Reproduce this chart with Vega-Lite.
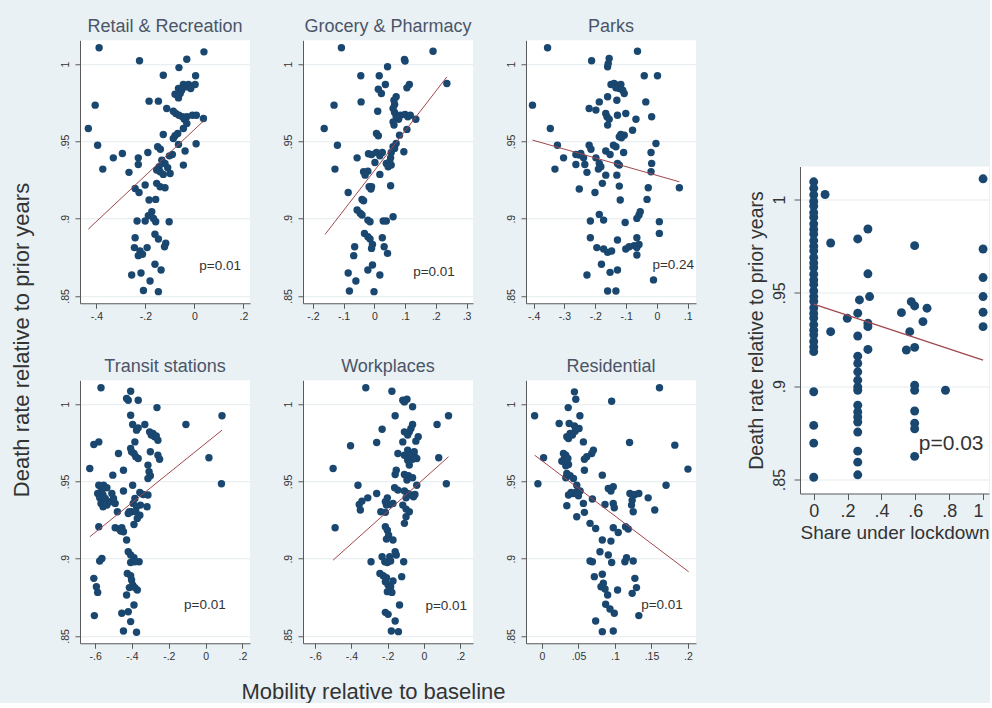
{
  "$schema": "https://vega.github.io/schema/vega-lite/v6.json",
  "background": "#e9f1f4",
  "padding": {"left": 10, "top": 18, "right": 0, "bottom": 0},
  "config": {
    "font": "Liberation Sans",
    "view": {"fill": "#ffffff", "stroke": null},
    "axis": {"domainColor": "#5a5a5a", "tickColor": "#5a5a5a", "labelColor": "#333333", "labelFontSize": 10.5, "tickSize": 5, "labelPadding": 3, "grid": false, "labelExpr": "replace(datum.value + '', '0.', '.')"},
    "axisY": {"grid": true, "gridColor": "#e3ebee", "labelAngle": 270, "labelPadding": 5},
    "title": {"fontSize": 18, "fontWeight": "normal", "color": "#4b5568", "offset": 4}
  },
  "datasets": {
    "retail": [{"x":-0.389,"y":1.0106},{"x":-0.224,"y":1.0022},{"x":0.039,"y":1.008},{"x":-0.031,"y":1.0032},{"x":-0.063,"y":0.9978},{"x":0.005,"y":0.9925},{"x":-0.127,"y":0.9929},{"x":-0.045,"y":0.9869},{"x":-0.024,"y":0.9869},{"x":-0.065,"y":0.9843},{"x":-0.052,"y":0.9832},{"x":-0.035,"y":0.9853},{"x":-0.015,"y":0.9843},{"x":-0.058,"y":0.981},{"x":-0.079,"y":0.9806},{"x":-0.065,"y":0.9782},{"x":0.003,"y":0.9869},{"x":-0.185,"y":0.9761},{"x":-0.147,"y":0.9761},{"x":-0.405,"y":0.9735},{"x":-0.113,"y":0.9713},{"x":-0.086,"y":0.9696},{"x":-0.076,"y":0.9681},{"x":-0.063,"y":0.967},{"x":-0.049,"y":0.966},{"x":-0.031,"y":0.966},{"x":-0.041,"y":0.9644},{"x":-0.008,"y":0.967},{"x":0.008,"y":0.967},{"x":0.037,"y":0.9649},{"x":-0.433,"y":0.9584},{"x":-0.031,"y":0.9616},{"x":-0.045,"y":0.9584},{"x":-0.068,"y":0.9552},{"x":-0.079,"y":0.9537},{"x":-0.086,"y":0.9519},{"x":-0.127,"y":0.9545},{"x":0.007,"y":0.9485},{"x":-0.395,"y":0.9476},{"x":-0.15,"y":0.9466},{"x":-0.139,"y":0.945},{"x":-0.065,"y":0.9481},{"x":-0.038,"y":0.9438},{"x":-0.09,"y":0.9416},{"x":-0.102,"y":0.9407},{"x":-0.331,"y":0.9394},{"x":-0.294,"y":0.9422},{"x":-0.229,"y":0.9394},{"x":-0.19,"y":0.9429},{"x":-0.229,"y":0.9351},{"x":-0.045,"y":0.9347},{"x":-0.374,"y":0.9321},{"x":-0.267,"y":0.93},{"x":-0.133,"y":0.9379},{"x":-0.12,"y":0.9358},{"x":-0.144,"y":0.9336},{"x":-0.154,"y":0.9315},{"x":-0.109,"y":0.933},{"x":-0.127,"y":0.9287},{"x":-0.099,"y":0.9293},{"x":-0.14,"y":0.9304},{"x":-0.242,"y":0.9196},{"x":-0.226,"y":0.917},{"x":-0.201,"y":0.9218},{"x":-0.154,"y":0.9229},{"x":-0.14,"y":0.9207},{"x":-0.12,"y":0.92},{"x":-0.185,"y":0.9121},{"x":-0.158,"y":0.9125},{"x":-0.174,"y":0.9045},{"x":-0.188,"y":0.902},{"x":-0.167,"y":0.9002},{"x":-0.158,"y":0.898},{"x":-0.201,"y":0.8985},{"x":-0.234,"y":0.8985},{"x":-0.103,"y":0.898},{"x":-0.242,"y":0.8877},{"x":-0.161,"y":0.8899},{"x":-0.147,"y":0.8869},{"x":-0.117,"y":0.8841},{"x":-0.122,"y":0.8819},{"x":-0.245,"y":0.8813},{"x":-0.222,"y":0.8791},{"x":-0.212,"y":0.877},{"x":-0.193,"y":0.8813},{"x":-0.229,"y":0.8761},{"x":-0.161,"y":0.8705},{"x":-0.136,"y":0.8668},{"x":-0.256,"y":0.8636},{"x":-0.218,"y":0.8649},{"x":-0.181,"y":0.8597},{"x":-0.208,"y":0.8535},{"x":-0.147,"y":0.8528}],
    "grocery": [{"x":-0.107,"y":1.0106},{"x":0.191,"y":1.0084},{"x":0.098,"y":1.003},{"x":0.1,"y":1.002},{"x":0.043,"y":0.9983},{"x":-0.044,"y":0.9925},{"x":0.016,"y":0.9925},{"x":0.036,"y":0.9869},{"x":0.114,"y":0.9869},{"x":0.106,"y":0.9847},{"x":0.236,"y":0.9875},{"x":0.013,"y":0.9838},{"x":0.023,"y":0.981},{"x":0.071,"y":0.9789},{"x":0.064,"y":0.9767},{"x":-0.043,"y":0.9756},{"x":-0.131,"y":0.9735},{"x":0.066,"y":0.9739},{"x":0.061,"y":0.9713},{"x":0.011,"y":0.9696},{"x":0.066,"y":0.9688},{"x":0.071,"y":0.966},{"x":0.085,"y":0.967},{"x":0.1,"y":0.9675},{"x":0.109,"y":0.966},{"x":0.117,"y":0.967},{"x":0.135,"y":0.9644},{"x":0.079,"y":0.9644},{"x":0.061,"y":0.9627},{"x":0.064,"y":0.9606},{"x":-0.163,"y":0.9584},{"x":0.106,"y":0.9578},{"x":0.007,"y":0.9552},{"x":0.013,"y":0.9537},{"x":0.082,"y":0.9541},{"x":-0.12,"y":0.9476},{"x":0.071,"y":0.9487},{"x":0.061,"y":0.9466},{"x":0.066,"y":0.9455},{"x":0.096,"y":0.9433},{"x":-0.019,"y":0.942},{"x":-0.009,"y":0.9416},{"x":0.007,"y":0.9429},{"x":0.026,"y":0.9429},{"x":0.018,"y":0.9407},{"x":0.055,"y":0.9429},{"x":0.053,"y":0.9394},{"x":-0.056,"y":0.9394},{"x":0.002,"y":0.9364},{"x":0.039,"y":0.9358},{"x":0.05,"y":0.9369},{"x":0.045,"y":0.9336},{"x":0.055,"y":0.9347},{"x":-0.128,"y":0.9321},{"x":-0.035,"y":0.9304},{"x":-0.021,"y":0.9308},{"x":-0.03,"y":0.9282},{"x":0.018,"y":0.9287},{"x":-0.017,"y":0.9207},{"x":-0.009,"y":0.9207},{"x":-0.011,"y":0.9192},{"x":0.053,"y":0.9213},{"x":-0.085,"y":0.917},{"x":-0.04,"y":0.9125},{"x":-0.035,"y":0.9116},{"x":-0.056,"y":0.9056},{"x":-0.046,"y":0.9035},{"x":-0.04,"y":0.9024},{"x":-0.021,"y":0.8991},{"x":-0.014,"y":0.898},{"x":0.029,"y":0.8985},{"x":0.039,"y":0.8985},{"x":0.061,"y":0.9013},{"x":-0.032,"y":0.8905},{"x":-0.021,"y":0.8884},{"x":-0.014,"y":0.8869},{"x":0.026,"y":0.8877},{"x":-0.006,"y":0.8834},{"x":-0.009,"y":0.8808},{"x":0.032,"y":0.8819},{"x":0.043,"y":0.8776},{"x":-0.064,"y":0.8819},{"x":-0.067,"y":0.8761},{"x":-0.006,"y":0.87},{"x":-0.021,"y":0.8668},{"x":0.018,"y":0.8636},{"x":-0.085,"y":0.8649},{"x":-0.06,"y":0.8597},{"x":-0.081,"y":0.8532},{"x":-0.001,"y":0.8528}],
    "parks": [{"x":-0.355,"y":1.0106},{"x":-0.063,"y":1.0084},{"x":-0.212,"y":1.0022},{"x":-0.155,"y":1.0037},{"x":-0.158,"y":1.0004},{"x":-0.16,"y":0.9983},{"x":-0.041,"y":0.9925},{"x":0.002,"y":0.9925},{"x":-0.149,"y":0.9869},{"x":-0.139,"y":0.9875},{"x":-0.128,"y":0.9864},{"x":-0.117,"y":0.9869},{"x":-0.122,"y":0.9843},{"x":-0.111,"y":0.9832},{"x":-0.106,"y":0.981},{"x":-0.133,"y":0.9847},{"x":-0.16,"y":0.9789},{"x":-0.13,"y":0.9767},{"x":-0.187,"y":0.9756},{"x":-0.036,"y":0.9756},{"x":-0.404,"y":0.9735},{"x":-0.22,"y":0.9713},{"x":-0.198,"y":0.9703},{"x":-0.166,"y":0.9681},{"x":-0.162,"y":0.966},{"x":-0.155,"y":0.9644},{"x":-0.16,"y":0.9606},{"x":-0.128,"y":0.967},{"x":-0.101,"y":0.9681},{"x":-0.068,"y":0.9644},{"x":-0.017,"y":0.966},{"x":-0.346,"y":0.9584},{"x":-0.079,"y":0.9573},{"x":-0.117,"y":0.9545},{"x":-0.106,"y":0.9541},{"x":-0.115,"y":0.9524},{"x":-0.122,"y":0.953},{"x":-0.003,"y":0.9487},{"x":-0.323,"y":0.9476},{"x":-0.22,"y":0.9476},{"x":-0.214,"y":0.945},{"x":-0.133,"y":0.9466},{"x":-0.141,"y":0.9476},{"x":-0.166,"y":0.9438},{"x":-0.152,"y":0.9416},{"x":-0.108,"y":0.9429},{"x":-0.019,"y":0.9429},{"x":-0.263,"y":0.9416},{"x":-0.252,"y":0.9412},{"x":-0.247,"y":0.9422},{"x":-0.238,"y":0.9394},{"x":-0.303,"y":0.9394},{"x":-0.198,"y":0.9394},{"x":-0.234,"y":0.9351},{"x":-0.263,"y":0.9351},{"x":-0.187,"y":0.9358},{"x":-0.182,"y":0.9336},{"x":-0.19,"y":0.9321},{"x":-0.128,"y":0.9358},{"x":-0.122,"y":0.9347},{"x":-0.017,"y":0.9358},{"x":-0.019,"y":0.9304},{"x":-0.331,"y":0.9321},{"x":-0.227,"y":0.93},{"x":-0.166,"y":0.9282},{"x":-0.177,"y":0.9229},{"x":-0.13,"y":0.9282},{"x":0.073,"y":0.92},{"x":-0.028,"y":0.92},{"x":-0.122,"y":0.9211},{"x":-0.252,"y":0.9192},{"x":-0.201,"y":0.917},{"x":-0.119,"y":0.9121},{"x":-0.032,"y":0.9125},{"x":-0.054,"y":0.9045},{"x":-0.058,"y":0.9024},{"x":-0.065,"y":0.9002},{"x":-0.187,"y":0.9028},{"x":-0.173,"y":0.8991},{"x":-0.216,"y":0.8985},{"x":-0.103,"y":0.8976},{"x":0.008,"y":0.8981},{"x":0.008,"y":0.8905},{"x":-0.216,"y":0.8877},{"x":-0.128,"y":0.8862},{"x":-0.065,"y":0.8877},{"x":-0.058,"y":0.8834},{"x":-0.065,"y":0.8813},{"x":-0.074,"y":0.8826},{"x":-0.195,"y":0.8813},{"x":-0.173,"y":0.8804},{"x":-0.16,"y":0.8782},{"x":-0.147,"y":0.8791},{"x":-0.101,"y":0.8804},{"x":-0.09,"y":0.8819},{"x":-0.065,"y":0.8765},{"x":-0.18,"y":0.8705},{"x":-0.152,"y":0.8653},{"x":-0.128,"y":0.8668},{"x":-0.227,"y":0.8636},{"x":-0.011,"y":0.8604},{"x":-0.16,"y":0.8532},{"x":-0.133,"y":0.8532}],
    "transit": [{"x":-0.568,"y":1.0106},{"x":-0.407,"y":1.0084},{"x":-0.366,"y":1.0026},{"x":-0.429,"y":1.0037},{"x":-0.42,"y":1.0026},{"x":-0.264,"y":0.9978},{"x":-0.407,"y":0.9929},{"x":0.089,"y":0.9925},{"x":-0.107,"y":0.9869},{"x":-0.396,"y":0.9869},{"x":-0.366,"y":0.9847},{"x":-0.375,"y":0.9832},{"x":-0.33,"y":0.9869},{"x":-0.304,"y":0.9821},{"x":-0.286,"y":0.981},{"x":-0.277,"y":0.9789},{"x":-0.259,"y":0.9767},{"x":-0.268,"y":0.9795},{"x":-0.295,"y":0.98},{"x":-0.58,"y":0.9756},{"x":-0.607,"y":0.9739},{"x":-0.384,"y":0.9756},{"x":-0.407,"y":0.9713},{"x":-0.389,"y":0.9681},{"x":-0.379,"y":0.966},{"x":-0.366,"y":0.9649},{"x":-0.402,"y":0.9692},{"x":-0.473,"y":0.9681},{"x":-0.3,"y":0.9692},{"x":-0.259,"y":0.967},{"x":-0.25,"y":0.9644},{"x":0.018,"y":0.9653},{"x":-0.629,"y":0.9584},{"x":-0.446,"y":0.9573},{"x":-0.313,"y":0.9606},{"x":-0.307,"y":0.9563},{"x":-0.3,"y":0.9537},{"x":-0.313,"y":0.9519},{"x":-0.504,"y":0.9541},{"x":0.086,"y":0.9485},{"x":-0.58,"y":0.9476},{"x":-0.568,"y":0.9466},{"x":-0.554,"y":0.9476},{"x":-0.536,"y":0.9459},{"x":-0.563,"y":0.9444},{"x":-0.586,"y":0.9422},{"x":-0.557,"y":0.9412},{"x":-0.575,"y":0.9394},{"x":-0.545,"y":0.939},{"x":-0.568,"y":0.9358},{"x":-0.557,"y":0.9336},{"x":-0.536,"y":0.9347},{"x":-0.509,"y":0.9422},{"x":-0.5,"y":0.939},{"x":-0.518,"y":0.9369},{"x":-0.491,"y":0.9358},{"x":-0.479,"y":0.9304},{"x":-0.446,"y":0.9438},{"x":-0.396,"y":0.9476},{"x":-0.384,"y":0.939},{"x":-0.393,"y":0.9358},{"x":-0.375,"y":0.9336},{"x":-0.354,"y":0.9347},{"x":-0.379,"y":0.9304},{"x":-0.357,"y":0.9282},{"x":-0.402,"y":0.9304},{"x":-0.371,"y":0.9261},{"x":-0.357,"y":0.9429},{"x":-0.339,"y":0.9416},{"x":-0.313,"y":0.9412},{"x":-0.318,"y":0.9336},{"x":-0.414,"y":0.9304},{"x":-0.42,"y":0.9293},{"x":-0.389,"y":0.9222},{"x":-0.58,"y":0.9207},{"x":-0.491,"y":0.92},{"x":-0.468,"y":0.9192},{"x":-0.455,"y":0.92},{"x":-0.446,"y":0.9175},{"x":-0.461,"y":0.9179},{"x":-0.429,"y":0.9121},{"x":-0.42,"y":0.9045},{"x":-0.407,"y":0.9024},{"x":-0.389,"y":0.9007},{"x":-0.361,"y":0.898},{"x":-0.384,"y":0.898},{"x":-0.407,"y":0.8976},{"x":-0.575,"y":0.8985},{"x":-0.563,"y":0.9002},{"x":-0.425,"y":0.8905},{"x":-0.407,"y":0.889},{"x":-0.402,"y":0.8862},{"x":-0.396,"y":0.883},{"x":-0.414,"y":0.8813},{"x":-0.429,"y":0.8765},{"x":-0.384,"y":0.8813},{"x":-0.371,"y":0.8798},{"x":-0.607,"y":0.8873},{"x":-0.593,"y":0.8819},{"x":-0.586,"y":0.8782},{"x":-0.389,"y":0.87},{"x":-0.42,"y":0.8657},{"x":-0.455,"y":0.8647},{"x":-0.407,"y":0.8593},{"x":-0.604,"y":0.8632},{"x":-0.446,"y":0.8532},{"x":-0.375,"y":0.8524}],
    "work": [{"x":-0.321,"y":1.0106},{"x":-0.177,"y":1.0084},{"x":-0.117,"y":1.0026},{"x":-0.094,"y":1.0032},{"x":-0.108,"y":1.0015},{"x":-0.063,"y":0.9983},{"x":-0.159,"y":0.9925},{"x":0.135,"y":0.9925},{"x":-0.063,"y":0.9869},{"x":-0.072,"y":0.9843},{"x":-0.081,"y":0.9821},{"x":-0.09,"y":0.98},{"x":-0.108,"y":0.9821},{"x":-0.032,"y":0.9789},{"x":-0.045,"y":0.9761},{"x":0.072,"y":0.9869},{"x":-0.231,"y":0.9838},{"x":-0.117,"y":0.9756},{"x":-0.261,"y":0.9752},{"x":-0.405,"y":0.9731},{"x":-0.144,"y":0.9681},{"x":-0.09,"y":0.9703},{"x":-0.072,"y":0.9675},{"x":-0.054,"y":0.9666},{"x":-0.04,"y":0.9649},{"x":-0.063,"y":0.9644},{"x":-0.09,"y":0.9638},{"x":-0.108,"y":0.967},{"x":-0.081,"y":0.966},{"x":-0.054,"y":0.9692},{"x":0.081,"y":0.9653},{"x":-0.081,"y":0.9606},{"x":-0.501,"y":0.9584},{"x":-0.153,"y":0.9573},{"x":-0.159,"y":0.9545},{"x":-0.108,"y":0.9545},{"x":-0.086,"y":0.9537},{"x":-0.063,"y":0.9524},{"x":-0.094,"y":0.9509},{"x":0.123,"y":0.9485},{"x":-0.04,"y":0.9476},{"x":-0.364,"y":0.9476},{"x":-0.162,"y":0.9459},{"x":-0.144,"y":0.9444},{"x":-0.108,"y":0.9438},{"x":-0.09,"y":0.9422},{"x":-0.072,"y":0.9412},{"x":-0.05,"y":0.9416},{"x":-0.058,"y":0.9401},{"x":-0.099,"y":0.9394},{"x":-0.261,"y":0.9422},{"x":-0.31,"y":0.9394},{"x":-0.342,"y":0.9373},{"x":-0.357,"y":0.9351},{"x":-0.351,"y":0.9315},{"x":-0.202,"y":0.9394},{"x":-0.213,"y":0.9369},{"x":-0.207,"y":0.9347},{"x":-0.189,"y":0.9351},{"x":-0.171,"y":0.9358},{"x":-0.238,"y":0.9304},{"x":-0.213,"y":0.93},{"x":-0.117,"y":0.9347},{"x":-0.099,"y":0.9321},{"x":-0.081,"y":0.9304},{"x":-0.099,"y":0.9272},{"x":-0.108,"y":0.9229},{"x":-0.49,"y":0.92},{"x":-0.213,"y":0.9207},{"x":-0.202,"y":0.9185},{"x":-0.195,"y":0.9153},{"x":-0.207,"y":0.9127},{"x":-0.171,"y":0.9121},{"x":-0.159,"y":0.9045},{"x":-0.153,"y":0.9024},{"x":-0.189,"y":0.9013},{"x":-0.231,"y":0.9013},{"x":-0.216,"y":0.898},{"x":-0.202,"y":0.8976},{"x":-0.184,"y":0.8985},{"x":-0.292,"y":0.898},{"x":-0.112,"y":0.898},{"x":-0.243,"y":0.8905},{"x":-0.225,"y":0.889},{"x":-0.207,"y":0.8877},{"x":-0.213,"y":0.8851},{"x":-0.198,"y":0.883},{"x":-0.184,"y":0.8819},{"x":-0.171,"y":0.8856},{"x":-0.202,"y":0.8787},{"x":-0.177,"y":0.8782},{"x":-0.123,"y":0.8884},{"x":-0.135,"y":0.87},{"x":-0.213,"y":0.8653},{"x":-0.198,"y":0.864},{"x":-0.159,"y":0.8597},{"x":-0.18,"y":0.8532},{"x":-0.141,"y":0.8528}],
    "resid": [{"x":0.0445,"y":1.008},{"x":0.0464,"y":1.0032},{"x":0.161,"y":1.0106},{"x":0.0955,"y":1.0019},{"x":0.036,"y":0.9978},{"x":-0.01,"y":0.9925},{"x":0.052,"y":0.9925},{"x":0.0236,"y":0.9875},{"x":0.0373,"y":0.9875},{"x":0.0445,"y":0.986},{"x":0.0509,"y":0.9843},{"x":0.0455,"y":0.9825},{"x":0.0418,"y":0.98},{"x":0.0364,"y":0.9778},{"x":0.0386,"y":0.981},{"x":0.0341,"y":0.9789},{"x":0.0568,"y":0.9756},{"x":0.12,"y":0.9752},{"x":0.182,"y":0.9735},{"x":0.0705,"y":0.9703},{"x":0.0682,"y":0.9681},{"x":0.0614,"y":0.966},{"x":0.0582,"y":0.9644},{"x":0.0023,"y":0.9653},{"x":0.0295,"y":0.9681},{"x":0.0327,"y":0.967},{"x":0.0309,"y":0.9649},{"x":0.0273,"y":0.9631},{"x":0.0355,"y":0.9649},{"x":0.0364,"y":0.961},{"x":0.0327,"y":0.9601},{"x":0.2,"y":0.958},{"x":0.0582,"y":0.9573},{"x":0.0341,"y":0.9552},{"x":0.0386,"y":0.9537},{"x":0.0327,"y":0.9524},{"x":0.0432,"y":0.9519},{"x":0.0477,"y":0.9476},{"x":0.0827,"y":0.9541},{"x":-0.0055,"y":0.9485},{"x":0.17,"y":0.9476},{"x":0.0909,"y":0.9455},{"x":0.0977,"y":0.9466},{"x":0.0945,"y":0.9438},{"x":0.0364,"y":0.9412},{"x":0.0432,"y":0.9422},{"x":0.0477,"y":0.9433},{"x":0.0523,"y":0.9438},{"x":0.05,"y":0.9407},{"x":0.04,"y":0.9429},{"x":0.1205,"y":0.9422},{"x":0.1273,"y":0.9416},{"x":0.1327,"y":0.9422},{"x":0.1236,"y":0.9379},{"x":0.1227,"y":0.9347},{"x":0.125,"y":0.9304},{"x":0.1455,"y":0.9394},{"x":0.0691,"y":0.9386},{"x":0.0568,"y":0.9358},{"x":0.0582,"y":0.93},{"x":0.0341,"y":0.9343},{"x":0.0864,"y":0.9351},{"x":0.0977,"y":0.9358},{"x":0.0991,"y":0.933},{"x":0.1545,"y":0.9315},{"x":0.0477,"y":0.9272},{"x":0.0659,"y":0.9229},{"x":0.0736,"y":0.9196},{"x":0.1145,"y":0.9207},{"x":0.1182,"y":0.9192},{"x":0.0977,"y":0.92},{"x":0.1045,"y":0.917},{"x":0.0827,"y":0.9121},{"x":0.0945,"y":0.9114},{"x":0.0795,"y":0.9045},{"x":0.0909,"y":0.9024},{"x":0.0955,"y":0.8976},{"x":0.0659,"y":0.8985},{"x":0.0691,"y":0.898},{"x":0.1159,"y":0.9007},{"x":0.1136,"y":0.898},{"x":0.125,"y":0.8985},{"x":0.0718,"y":0.8884},{"x":0.0827,"y":0.8899},{"x":0.0841,"y":0.8841},{"x":0.0809,"y":0.8819},{"x":0.0864,"y":0.8804},{"x":0.09,"y":0.8765},{"x":0.1036,"y":0.8798},{"x":0.1273,"y":0.8873},{"x":0.1295,"y":0.8813},{"x":0.1236,"y":0.8776},{"x":0.0873,"y":0.8705},{"x":0.0932,"y":0.8675},{"x":0.0991,"y":0.8647},{"x":0.1327,"y":0.8632},{"x":0.0736,"y":0.8597},{"x":0.0827,"y":0.8528},{"x":0.0977,"y":0.8532}],
    "lock": [{"x":0,"y":1.0095},{"x":0,"y":1.006},{"x":0,"y":1.0025},{"x":0,"y":0.999},{"x":0,"y":0.9965},{"x":0,"y":0.993},{"x":0,"y":0.9905},{"x":0,"y":0.987},{"x":0,"y":0.984},{"x":0,"y":0.9815},{"x":0,"y":0.978},{"x":0,"y":0.975},{"x":0,"y":0.9725},{"x":0,"y":0.969},{"x":0,"y":0.966},{"x":0,"y":0.9635},{"x":0,"y":0.96},{"x":0,"y":0.957},{"x":0,"y":0.9545},{"x":0,"y":0.951},{"x":0,"y":0.948},{"x":0,"y":0.9455},{"x":0,"y":0.942},{"x":0,"y":0.939},{"x":0,"y":0.9365},{"x":0,"y":0.933},{"x":0,"y":0.93},{"x":0,"y":0.9275},{"x":0,"y":0.924},{"x":0,"y":0.921},{"x":0,"y":0.9185},{"x":0,"y":0.897},{"x":0,"y":0.879},{"x":0,"y":0.8695},{"x":0,"y":0.8512},{"x":0.067,"y":1.0027},{"x":0.1,"y":0.9767},{"x":0.1,"y":0.9292},{"x":0.198,"y":0.9364},{"x":0.26,"y":0.9789},{"x":0.32,"y":0.9842},{"x":0.32,"y":0.9602},{"x":0.27,"y":0.9462},{"x":0.33,"y":0.948},{"x":0.26,"y":0.9391},{"x":0.32,"y":0.9337},{"x":0.32,"y":0.9319},{"x":0.26,"y":0.9269},{"x":0.32,"y":0.9197},{"x":0.26,"y":0.9161},{"x":0.26,"y":0.9122},{"x":0.26,"y":0.9077},{"x":0.26,"y":0.9032},{"x":0.26,"y":0.8996},{"x":0.26,"y":0.8978},{"x":0.26,"y":0.8898},{"x":0.26,"y":0.8862},{"x":0.26,"y":0.8835},{"x":0.26,"y":0.8808},{"x":0.26,"y":0.8754},{"x":0.26,"y":0.8652},{"x":0.26,"y":0.8593},{"x":0.26,"y":0.8525},{"x":0.596,"y":0.9753},{"x":0.518,"y":0.9394},{"x":0.576,"y":0.9453},{"x":0.596,"y":0.943},{"x":0.669,"y":0.9418},{"x":0.645,"y":0.9346},{"x":0.567,"y":0.9292},{"x":0.547,"y":0.9194},{"x":0.596,"y":0.9208},{"x":0.596,"y":0.9005},{"x":0.596,"y":0.8978},{"x":0.596,"y":0.8867},{"x":0.596,"y":0.8802},{"x":0.596,"y":0.8772},{"x":0.596,"y":0.8624},{"x":0.778,"y":0.8978},{"x":1,"y":1.0111},{"x":1,"y":0.9735},{"x":1,"y":0.9582},{"x":1,"y":0.948},{"x":1,"y":0.9396},{"x":1,"y":0.9319}]
  },
  "hconcat": [
    {
      "title": {"text": "Mobility relative to baseline", "orient": "bottom", "anchor": "middle", "fontSize": 22, "color": "#333333", "offset": 20, "dx": 20},
      "vconcat": [
        {
          "title": {"text": "Death rate relative to prior years", "orient": "left", "anchor": "middle", "fontSize": 22, "color": "#333333", "offset": 26},
          "columns": 3,
          "bounds": "flush",
          "spacing": {"row": 77, "column": 53},
          "concat": [
            {
              "title": "Retail & Recreation", "width": 170, "height": 263,
              "encoding": {
                "x": {"field": "x", "type": "quantitative", "title": null, "scale": {"domain": [-0.467, 0.227], "nice": false, "zero": false}, "axis": {"values": [-0.4, -0.2, 0, 0.2]}},
                "y": {"field": "y", "type": "quantitative", "title": null, "scale": {"domain": [0.8453, 1.0155], "nice": false, "zero": false}, "axis": {"values": [0.85, 0.9, 0.95, 1]}}
              },
              "layer": [
                {"data": {"name": "retail"}, "mark": {"type": "circle", "size": 55, "color": "#1a476f", "opacity": 1}},
                {"data": {"values": [{"x": -0.433, "y": 0.8933}, {"x": 0.041, "y": 0.9638}]}, "mark": {"type": "line", "color": "#a0474c", "strokeWidth": 1}},
                {"data": {"values": [{"x": 0.105, "y": 0.8696, "label": "p=0.01"}]}, "mark": {"type": "text", "fontSize": 13.5, "color": "#333333"}, "encoding": {"text": {"field": "label"}}}
              ]
            },
            {
              "title": "Grocery & Pharmacy", "width": 170, "height": 263,
              "encoding": {
                "x": {"field": "x", "type": "quantitative", "title": null, "scale": {"domain": [-0.232, 0.321], "nice": false, "zero": false}, "axis": {"values": [-0.2, -0.1, 0, 0.1, 0.2, 0.3]}},
                "y": {"field": "y", "type": "quantitative", "title": null, "scale": {"domain": [0.8453, 1.0155], "nice": false, "zero": false}, "axis": {"values": [0.85, 0.9, 0.95, 1]}}
              },
              "layer": [
                {"data": {"name": "grocery"}, "mark": {"type": "circle", "size": 55, "color": "#1a476f", "opacity": 1}},
                {"data": {"values": [{"x": -0.16, "y": 0.8899}, {"x": 0.236, "y": 0.9918}]}, "mark": {"type": "line", "color": "#a0474c", "strokeWidth": 1}},
                {"data": {"values": [{"x": 0.194, "y": 0.8653, "label": "p=0.01"}]}, "mark": {"type": "text", "fontSize": 13.5, "color": "#333333"}, "encoding": {"text": {"field": "label"}}}
              ]
            },
            {
              "title": "Parks", "width": 170, "height": 263,
              "encoding": {
                "x": {"field": "x", "type": "quantitative", "title": null, "scale": {"domain": [-0.425, 0.127], "nice": false, "zero": false}, "axis": {"values": [-0.4, -0.3, -0.2, -0.1, 0, 0.1]}},
                "y": {"field": "y", "type": "quantitative", "title": null, "scale": {"domain": [0.8453, 1.0155], "nice": false, "zero": false}, "axis": {"values": [0.85, 0.9, 0.95, 1]}}
              },
              "layer": [
                {"data": {"name": "parks"}, "mark": {"type": "circle", "size": 55, "color": "#1a476f", "opacity": 1}},
                {"data": {"values": [{"x": -0.404, "y": 0.9509}, {"x": 0.073, "y": 0.9239}]}, "mark": {"type": "line", "color": "#a0474c", "strokeWidth": 1}},
                {"data": {"values": [{"x": 0.053, "y": 0.87, "label": "p=0.24"}]}, "mark": {"type": "text", "fontSize": 13.5, "color": "#333333"}, "encoding": {"text": {"field": "label"}}}
              ]
            },
            {
              "title": "Transit stations", "width": 170, "height": 263,
              "encoding": {
                "x": {"field": "x", "type": "quantitative", "title": null, "scale": {"domain": [-0.682, 0.241], "nice": false, "zero": false}, "axis": {"values": [-0.6, -0.4, -0.2, 0, 0.2]}},
                "y": {"field": "y", "type": "quantitative", "title": null, "scale": {"domain": [0.8453, 1.0155], "nice": false, "zero": false}, "axis": {"values": [0.85, 0.9, 0.95, 1]}}
              },
              "layer": [
                {"data": {"name": "transit"}, "mark": {"type": "circle", "size": 55, "color": "#1a476f", "opacity": 1}},
                {"data": {"values": [{"x": -0.629, "y": 0.9142}, {"x": 0.089, "y": 0.9832}]}, "mark": {"type": "line", "color": "#a0474c", "strokeWidth": 1}},
                {"data": {"values": [{"x": -0.004, "y": 0.87, "label": "p=0.01"}]}, "mark": {"type": "text", "fontSize": 13.5, "color": "#333333"}, "encoding": {"text": {"field": "label"}}}
              ]
            },
            {
              "title": "Workplaces", "width": 170, "height": 263,
              "encoding": {
                "x": {"field": "x", "type": "quantitative", "title": null, "scale": {"domain": [-0.667, 0.27], "nice": false, "zero": false}, "axis": {"values": [-0.6, -0.4, -0.2, 0, 0.2]}},
                "y": {"field": "y", "type": "quantitative", "title": null, "scale": {"domain": [0.8453, 1.0155], "nice": false, "zero": false}, "axis": {"values": [0.85, 0.9, 0.95, 1]}}
              },
              "layer": [
                {"data": {"name": "work"}, "mark": {"type": "circle", "size": 55, "color": "#1a476f", "opacity": 1}},
                {"data": {"values": [{"x": -0.501, "y": 0.8991}, {"x": 0.135, "y": 0.966}]}, "mark": {"type": "line", "color": "#a0474c", "strokeWidth": 1}},
                {"data": {"values": [{"x": 0.1225, "y": 0.8694, "label": "p=0.01"}]}, "mark": {"type": "text", "fontSize": 13.5, "color": "#333333"}, "encoding": {"text": {"field": "label"}}}
              ]
            },
            {
              "title": "Residential", "width": 170, "height": 263,
              "encoding": {
                "x": {"field": "x", "type": "quantitative", "title": null, "scale": {"domain": [-0.0218, 0.211], "nice": false, "zero": false}, "axis": {"values": [0, 0.05, 0.1, 0.15, 0.2]}},
                "y": {"field": "y", "type": "quantitative", "title": null, "scale": {"domain": [0.8453, 1.0155], "nice": false, "zero": false}, "axis": {"values": [0.85, 0.9, 0.95, 1]}}
              },
              "layer": [
                {"data": {"name": "resid"}, "mark": {"type": "circle", "size": 55, "color": "#1a476f", "opacity": 1}},
                {"data": {"values": [{"x": -0.01, "y": 0.967}, {"x": 0.2009, "y": 0.8916}]}, "mark": {"type": "line", "color": "#a0474c", "strokeWidth": 1}},
                {"data": {"values": [{"x": 0.1645, "y": 0.87, "label": "p=0.01"}]}, "mark": {"type": "text", "fontSize": 13.5, "color": "#333333"}, "encoding": {"text": {"field": "label"}}}
              ]
            }
          ]
        }
      ]
    },
    {
      "width": 189, "height": 327,
      "encoding": {
        "x": {"field": "x", "type": "quantitative", "title": ["Share under lockdown", " "], "scale": {"domain": [-0.081, 1.035], "nice": false, "zero": false}, "axis": {"values": [0, 0.2, 0.4, 0.6, 0.8, 1], "labelFontSize": 18, "tickSize": 6, "labelPadding": 3, "labelFlush": 8, "titleFontSize": 19, "titleLineHeight": 34, "titleFontWeight": "normal", "titleColor": "#333333", "titleAnchor": "start", "titlePadding": 3}},
        "y": {"field": "y", "type": "quantitative", "title": "Death rate relative to prior years", "scale": {"domain": [0.8425, 1.0177], "nice": false, "zero": false}, "axis": {"values": [0.85, 0.9, 0.95, 1], "labelFontSize": 16, "tickSize": 6, "labelPadding": 7, "titleFontSize": 19.5, "titleFontWeight": "normal", "titleColor": "#333333", "titlePadding": 5}}
      },
      "layer": [
        {"data": {"name": "lock"}, "mark": {"type": "circle", "size": 80, "color": "#1a476f", "opacity": 1}},
        {"data": {"values": [{"x": 0, "y": 0.944}, {"x": 1, "y": 0.914}]}, "mark": {"type": "line", "color": "#a0474c", "strokeWidth": 1.3}},
        {"data": {"values": [{"x": 0.62, "y": 0.869, "label": "p=0.03"}]}, "mark": {"type": "text", "fontSize": 21, "color": "#333333", "align": "left"}, "encoding": {"text": {"field": "label"}}}
      ]
    }
  ],
  "spacing": 49,
  "center": true
}
